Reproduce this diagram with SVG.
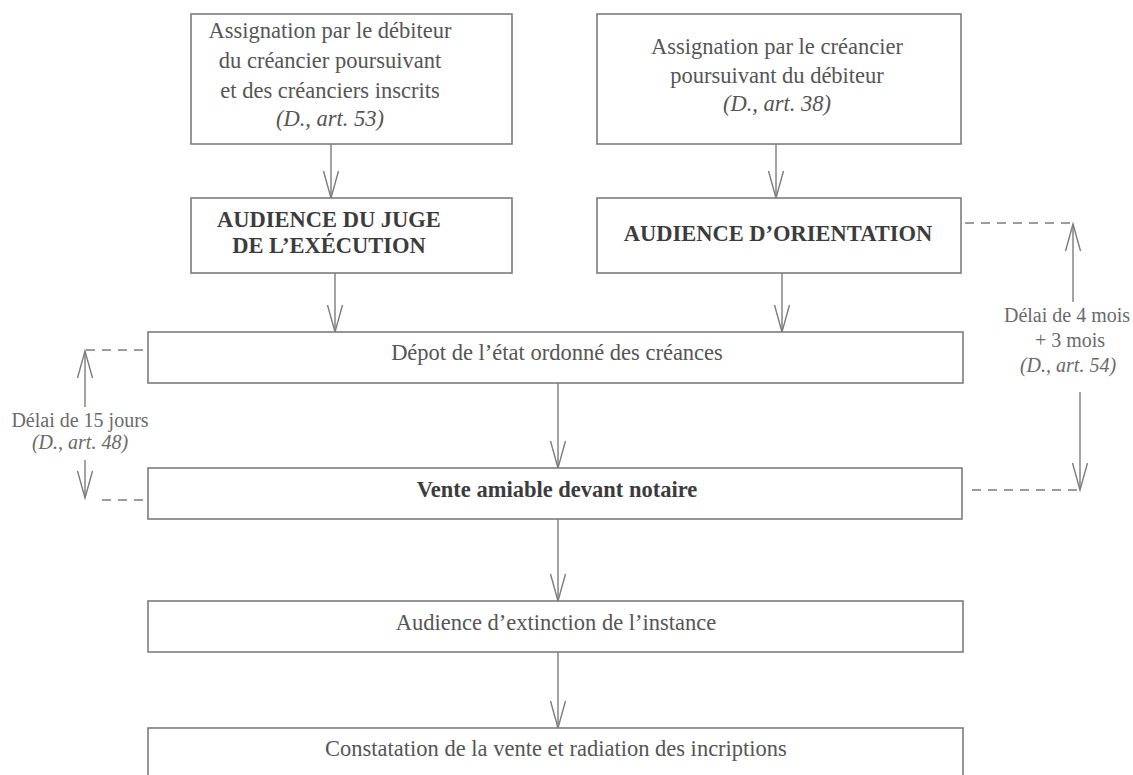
<svg xmlns="http://www.w3.org/2000/svg" width="1133" height="775" viewBox="0 0 1133 775">
<style>
.box{fill:#fff;stroke:#7c7c7c;stroke-width:1.6}
.t{font-family:"Liberation Serif","Times New Roman",serif;font-size:22.5px;fill:#555;text-anchor:middle}
.b{font-weight:bold;fill:#3c3c3c}
.i{font-style:italic}
.s{font-family:"Liberation Serif","Times New Roman",serif;font-size:20px;fill:#6a6a6a;text-anchor:middle}
.ln{stroke:#7c7c7c;stroke-width:1.4;fill:none}
.dash{stroke:#7c7c7c;stroke-width:1.4;fill:none;stroke-dasharray:9 7}
</style>
<defs>
<marker id="v" markerUnits="userSpaceOnUse" viewBox="-30 -10 32 20" markerWidth="32" markerHeight="20" refX="0" refY="0" orient="auto">
<path d="M-27,-7.5 L0,0 L-27,7.5" fill="none" stroke="#7c7c7c" stroke-width="1.4"/>
</marker>
</defs>
<rect width="1133" height="775" fill="#fff"/>
<g id="connectors">
<line class="ln" x1="331" y1="144" x2="331" y2="198" marker-end="url(#v)"/>
<line class="ln" x1="776" y1="144" x2="776" y2="198" marker-end="url(#v)"/>
<line class="ln" x1="335" y1="273" x2="335" y2="332" marker-end="url(#v)"/>
<line class="ln" x1="782" y1="273" x2="782" y2="332" marker-end="url(#v)"/>
<line class="ln" x1="558" y1="383" x2="558" y2="468" marker-end="url(#v)"/>
<line class="ln" x1="558" y1="519" x2="558" y2="601" marker-end="url(#v)"/>
<line class="ln" x1="558" y1="652" x2="558" y2="728" marker-end="url(#v)"/>
<path class="dash" d="M965,223 H1073"/>
<line class="ln" x1="1073" y1="302" x2="1073" y2="224" marker-end="url(#v)"/>
<line class="ln" x1="1080" y1="392" x2="1080" y2="490" marker-end="url(#v)"/>
<path class="dash" d="M972,490 H1078"/>
<path class="dash" d="M143,350 H85"/>
<line class="ln" x1="85" y1="407" x2="85" y2="351" marker-end="url(#v)"/>
<line class="ln" x1="85" y1="460" x2="85" y2="498" marker-end="url(#v)"/>
<path class="dash" d="M143,500 H97"/>
</g>
<g id="n1">
<rect class="box" x="191" y="14" width="321" height="130"/>
<text class="t" x="330" y="38">Assignation par le débiteur</text>
<text class="t" x="330" y="68">du créancier poursuivant</text>
<text class="t" x="330" y="98">et des créanciers inscrits</text>
<text class="t i" x="330" y="126">(D., art. 53)</text>
</g>
<g id="n2">
<rect class="box" x="597" y="14" width="364" height="130"/>
<text class="t" x="777" y="54">Assignation par le créancier</text>
<text class="t" x="777" y="83">poursuivant du débiteur</text>
<text class="t i" x="777" y="111">(D., art. 38)</text>
</g>
<g id="n3">
<rect class="box" x="191" y="198" width="321" height="75"/>
<text class="t b" x="329" y="227">AUDIENCE DU JUGE</text>
<text class="t b" x="329" y="253">DE L’EXÉCUTION</text>
</g>
<g id="n4">
<rect class="box" x="597" y="198" width="364" height="75"/>
<text class="t b" x="778" y="241">AUDIENCE D’ORIENTATION</text>
</g>
<g id="n5">
<rect class="box" x="148" y="332" width="815" height="51"/>
<text class="t" x="557" y="360">Dépot de l’état ordonné des créances</text>
</g>
<g id="n6">
<rect class="box" x="148" y="468" width="814" height="51"/>
<text class="t b" x="557" y="497">Vente amiable devant notaire</text>
</g>
<g id="n7">
<rect class="box" x="148" y="601" width="815" height="51"/>
<text class="t" x="556" y="630">Audience d’extinction de l’instance</text>
</g>
<g id="n8">
<rect class="box" x="148" y="728" width="815" height="62"/>
<text class="t" x="556" y="756">Constatation de la vente et radiation des incriptions</text>
</g>
<g id="label-right">
<text class="s" x="1067" y="322">Délai de 4 mois</text>
<text class="s" x="1070" y="347">+ 3 mois</text>
<text class="s i" x="1068" y="372">(D., art. 54)</text>
</g>
<g id="label-left">
<text class="s" x="80" y="427">Délai de 15 jours</text>
<text class="s i" x="80" y="449">(D., art. 48)</text>
</g>
</svg>
